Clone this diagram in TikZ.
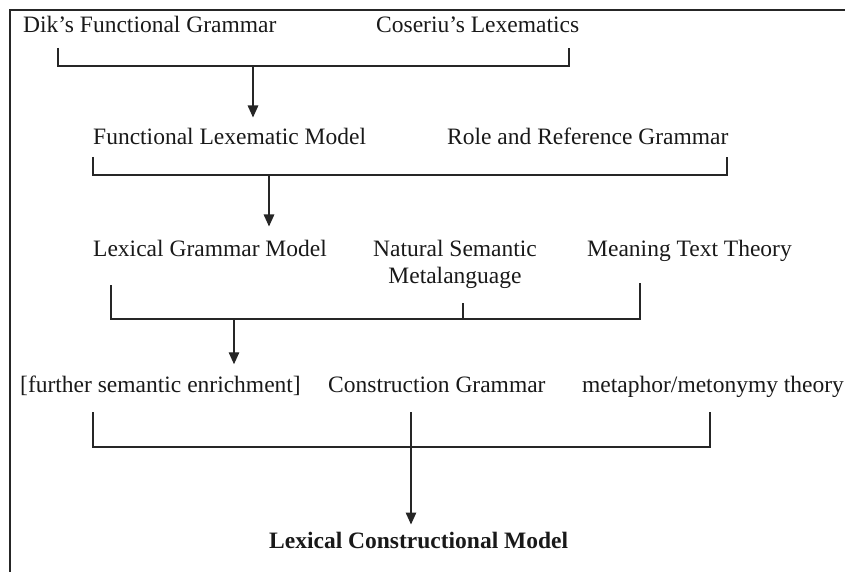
\documentclass[tikz,border=0pt]{standalone}
\usepackage{fontspec}
\setmainfont{Liberation Serif}
\usetikzlibrary{arrows.meta}
\begin{document}
\begin{tikzpicture}[x=1pt,y=-1pt,
  lbl/.style={inner sep=0pt,anchor=base west,font=\fontsize{23.5}{27}\selectfont,text=black!90},
  link/.style={draw=black!85,line width=1.4pt},
  flow/.style={link,-{Triangle[length=12pt,width=10.5pt]}},
  frame/.style={draw=black!85,line width=1.6pt}]
\useasboundingbox (0,0) rectangle (845,572);
% outer frame (top and left edges)
\draw[frame] (845,10) -- (10,10) -- (10,572);

% row 1
\node[lbl] (dik) at (23,33) {Dik’s Functional Grammar};
\node[lbl] (cos) at (376,33) {Coseriu’s Lexematics};
% row 2
\node[lbl] (flm) at (93,145) {Functional Lexematic Model};
\node[lbl] (rrg) at (447,145) {Role and Reference Grammar};
% row 3
\node[lbl] (lgm) at (93,256) {Lexical Grammar Model};
\node[lbl,anchor=north,align=center] (nsm) at (455,239.5) {Natural Semantic\\Metalanguage};
\node[lbl] (mtt) at (587,256) {Meaning Text Theory};
% row 4
\node[lbl] (fse) at (20,392) {[further semantic enrichment]};
\node[lbl] (cg) at (328,392) {Construction Grammar};
\node[lbl] (mmt) at (582,392) {metaphor/metonymy theory};
% result
\node[lbl,font=\fontsize{23.5}{27}\selectfont\bfseries] (lcm) at (269,548) {Lexical Constructional Model};

% bracket 1
\coordinate (b1l) at (58,66);
\coordinate (b1r) at (569,66);
\coordinate (b1m) at (253,66);
\draw[link] (b1l |- 0,48) -- (b1l) -- (b1r) -- (b1r |- 0,48);
\draw[flow,shorten >=11pt] (b1m) -- (b1m |- flm.north);

% bracket 2
\coordinate (b2l) at (93,175);
\coordinate (b2r) at (727,175);
\coordinate (b2m) at (269,175);
\draw[link] (b2l |- 0,157) -- (b2l) -- (b2r) -- (b2r |- 0,157);
\draw[flow,shorten >=13pt] (b2m) -- (b2m |- lgm.north);

% bracket 3
\coordinate (b3l) at (111,319);
\coordinate (b3r) at (640,319);
\coordinate (b3c) at (463,319);
\coordinate (b3m) at (234,319);
\draw[link] (b3l |- 0,285) -- (b3l) -- (b3r) -- (b3r |- 0,283);
\draw[link] (b3c |- 0,303) -- (b3c);
\draw[flow,shorten >=11pt] (b3m) -- (b3m |- fse.north);

% bracket 4
\coordinate (b4l) at (93,447);
\coordinate (b4r) at (710,447);
\coordinate (b4m) at (411,447);
\draw[link] (b4l |- 0,412) -- (b4l) -- (b4r) -- (b4r |- 0,412);
\draw[flow,shorten >=7pt] (b4m |- 0,412) -- (b4m |- lcm.north);
\end{tikzpicture}
\end{document}
